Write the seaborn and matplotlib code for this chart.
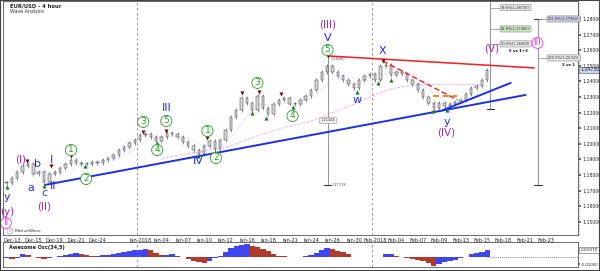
import numpy as np
import pandas as pd
import matplotlib
matplotlib.use("Agg")
import matplotlib.pyplot as plt
import seaborn as sns
from matplotlib.patches import Rectangle, Ellipse

sns.set_theme(style="white")
plt.rcParams['font.family'] = ['DejaVu Sans']

# ---------------- data ----------------
holidays = ['2017-12-25', '2018-01-01']
tick_labels = ['Dec-13', 'Dec-15', 'Dec-19', 'Dec-21', 'Dec-24', 'Jan-2018', 'Jan-04', 'Jan-07',
               'Jan-10', 'Jan-12', 'Jan-16', 'Jan-18', 'Jan-21', 'Jan-24', 'Jan-26', 'Jan-30',
               'Feb-2018', 'Feb-04', 'Feb-07', 'Feb-09', 'Feb-13', 'Feb-15', 'Feb-18', 'Feb-21', 'Feb-23']
tick_dates = ['2017-12-13', '2017-12-15', '2017-12-19', '2017-12-21', '2017-12-24', '2018-01-01',
              '2018-01-04', '2018-01-07', '2018-01-10', '2018-01-12', '2018-01-16', '2018-01-18',
              '2018-01-21', '2018-01-24', '2018-01-26', '2018-01-30', '2018-02-01', '2018-02-04',
              '2018-02-07', '2018-02-09', '2018-02-13', '2018-02-15', '2018-02-18', '2018-02-21',
              '2018-02-23']

# 12-hour closes, starting half a trading day before Dec-13
closes = [1.1749, 1.1781, 1.1819, 1.1858, 1.1871, 1.1806, 1.1819, 1.1755, 1.1806, 1.1819,
          1.1845, 1.1871, 1.1896, 1.1877, 1.1871, 1.1871, 1.1883, 1.1877, 1.1896, 1.1909,
          1.1928, 1.1960, 1.1980, 1.2005, 1.2024, 1.2056, 1.2063, 1.2044, 1.2018, 1.2044,
          1.2069, 1.2063, 1.2044, 1.2012, 1.1986, 1.1960, 1.1935, 1.1986, 1.2018, 1.1967,
          1.2024, 1.2088, 1.2172, 1.2217, 1.2294, 1.2262, 1.2217, 1.2306, 1.2230, 1.2191,
          1.2255, 1.2281, 1.2294, 1.2255, 1.2255, 1.2281, 1.2306, 1.2345, 1.2409, 1.2460,
          1.2499, 1.2460, 1.2435, 1.2409, 1.2383, 1.2358, 1.2409, 1.2435, 1.2447, 1.2409,
          1.2499, 1.2505, 1.2441, 1.2460, 1.2447, 1.2409, 1.2383, 1.2345, 1.2300, 1.2262,
          1.2230, 1.2262, 1.2242, 1.2255, 1.2268, 1.2281, 1.2319, 1.2358, 1.2371, 1.2409,
          1.2473]

awesome = [-0.0013, -0.0027, -0.0013, 0.0053, 0.0040, 0.0013, -0.0013, -0.0027, -0.0007, 0.0013,
           0.0027, 0.0040, 0.0053, 0.0067, 0.0053, 0.0040, 0.0027, 0.0027, 0.0040, 0.0040,
           0.0053, 0.0067, 0.0080, 0.0093, 0.0107, 0.0113, 0.0120, 0.0107, 0.0067, 0.0040,
           0.0040, 0.0053, 0.0027, 0.0000, -0.0027, -0.0053, -0.0073, -0.0080, -0.0053, -0.0013,
           0.0027, 0.0080, 0.0133, 0.0173, 0.0187, 0.0200, 0.0173, 0.0147, 0.0120, 0.0093,
           0.0053, 0.0027, 0.0020, 0.0013, 0.0007, 0.0013, 0.0020, 0.0033, 0.0067, 0.0107,
           0.0133, 0.0120, 0.0093, 0.0080, 0.0053, 0.0013, 0.0000, 0.0013, 0.0013, 0.0000,
           0.0013, 0.0053, 0.0053, 0.0027, 0.0013, -0.0013, -0.0027, -0.0040, -0.0047, -0.0080,
           -0.0120, -0.0100, -0.0073, -0.0053, -0.0033, -0.0013, 0.0013, 0.0053, 0.0067, 0.0080,
           0.0107]

# wave labels: text, trading-day position, price, style
wave_text = ['(III)', 'V', '5', 'X', 'w', 'y', '(IV)', '(V)', 'III',
             '3', '4', 'III', '5', '3', '4', 'IV', '1', '2', '1', '2',
             'I', 'II', 'c', 'a', 'b', '(I)', 'y', '(y)', 'II', '(II)']
wave_day = [29.55, 29.55, 29.55, 34.7, 32.27, 40.7, 40.7, 44.9, 49.2,
            22.98, 26.27, 14.45, 14.45, 12.29, 13.6, 17.45, 18.3, 19.1, 5.53, 6.94,
            3.66, 3.85, 3.0, 1.78, 2.35, 0.84, -0.47, -0.47, -0.56, 3.0]
wave_price = [1.2762, 1.2678, 1.2601, 1.2595, 1.2281, 1.2140, 1.2069, 1.2608, 1.2646,
              1.2390, 1.2178, 1.2229, 1.2146, 1.2140, 1.1960, 1.1890, 1.2082, 1.1909, 1.1960, 1.1774,
              1.1896, 1.1730, 1.1685, 1.1717, 1.1871, 1.1896, 1.1659, 1.1563, 1.1492, 1.1595]
wave_style = ['purple', 'blue', 'circle', 'blue', 'blue', 'blue', 'purple', 'purple', 'pink',
              'circle', 'circle', 'blue', 'circle', 'circle', 'circle', 'blue', 'circle', 'circle',
              'circle', 'circle', 'blue', 'blue', 'blue', 'blue', 'blue', 'purple', 'blue',
              'purple', 'pink', 'purple']

high_day = [1.41, 3.66, 5.53, 12.29, 14.45, 18.3, 21.5, 23.1, 25.2, 29.55, 34.7]
high_price = [1.1890, 1.1858, 1.1922, 1.2076, 1.2082, 1.2037, 1.2326, 1.2332, 1.2319, 1.2563, 1.2531]
low_day = [-0.47, 3.0, 6.85, 13.6, 17.45, 19.04, 22.5, 23.8, 26.27, 32.27, 34.24, 35.46, 39.4, 40.7]
low_price = [1.1723, 1.1730, 1.1858, 1.2005, 1.1922, 1.1947, 1.2197, 1.2165, 1.2236, 1.2332,
             1.2390, 1.2409, 1.2210, 1.2217]

# trend lines (day, price) endpoints
blue_long = ([3.1, 48.1], [1.1736, 1.2313])
blue_short = ([40.4, 46.7], [1.2217, 1.2390])
red_top = ([29.55, 48.9], [1.2563, 1.2486])
red_dash = ([34.7, 41.7], [1.2531, 1.2281])
orange_dash = ([39.4, 41.7], [1.2306, 1.2306])

fib_a_day, fib_a_top, fib_a_bottom = 29.55, 1.2563, 1.1736
fib_b_day, fib_b_bottom = 44.8, 1.2223
fib_b_levels = [1.2873, 1.2736, 1.2640]
fib_b_texts = ['78.6%(1.28730)', '61.8%(1.27360)', '50.0%(1.26400)']
fib_b_colors = ['#e6e6e6', '#c8e6c0', '#e6e6e6']
fib_c_day, fib_c_top, fib_c_bottom = 49.25, 1.2800, 1.1736
fib_c_levels = [1.2800, 1.2550]
fib_c_texts = ['261.8%(1.27992)', '200.0%(1.25321)']
fib_c_colors = ['#c9cbe8', '#e6e6e6']

# ---------------- derived positions ----------------
cal = pd.bdate_range('2017-12-13', '2018-03-02')
cal = cal[~cal.isin(pd.to_datetime(holidays))]
tick_pos = cal.searchsorted(pd.to_datetime(tick_dates))
day = np.arange(len(closes)) * 0.5 - 0.5
df = pd.DataFrame({'day': day, 'close': closes, 'ao': awesome})
df['open'] = df['close'].shift(1).fillna(df['close'])
df['ma_fast'] = df['close'].rolling(6).mean()
df['ma_slow'] = df['close'].rolling(30).mean()

W, H = 600, 271
fig = plt.figure(figsize=(6, 2.71), dpi=100)
fig.patch.set_facecolor('white')
xl, xr = 3 / W, 578 / W
ax = fig.add_axes([xl, 1 - 235 / H, xr - xl, 234 / H])
ax2 = fig.add_axes([xl, 1 - 267 / H, xr - xl, 25 / H], sharex=ax)

XMIN, XMAX = -0.84, 53.0
ax.set_xlim(XMIN, XMAX)
ax.set_ylim(1.1415, 1.2915)

BLUE = '#1f2fe0'
PURPLE = '#9b2f9f'
GREEN = '#2b9a2b'
PINK = '#f030f0'

# period separators
for d in ['2018-01-01', '2018-02-01']:
    p = cal.searchsorted(pd.Timestamp(d)) - 0.3
    ax.axvline(p, color='#888888', lw=0.6, ls=(0, (3, 3)))
    ax2.axvline(p, color='#888888', lw=0.6, ls=(0, (3, 3)))

# moving averages
sns.lineplot(data=df, x='day', y='ma_slow', ax=ax, color='#e6a8e6', lw=0.6, ls='--')
sns.lineplot(data=df, x='day', y='ma_fast', ax=ax, color='#a9c4f0', lw=0.6, ls=':')

# candles
lo = np.minimum(df['open'], df['close'])
hi = np.maximum(df['open'], df['close'])
ax.vlines(df['day'], lo - 0.0014, hi + 0.0014, color='#555555', lw=0.45, zorder=3)
ax.bar(df['day'], (hi - lo).clip(lower=0.0004), bottom=lo, width=0.22,
       color='#d9d9d9', edgecolor='#3a3a3a', linewidth=0.35, zorder=4)

# trend lines
ax.plot(*blue_long, color=BLUE, lw=1.4, zorder=5)
ax.plot(*blue_short, color=BLUE, lw=1.4, zorder=5)
ax.plot(*red_top, color='#ee2222', lw=1.1, zorder=5)
ax.plot(*red_dash, color='#ee2222', lw=1.0, ls=(0, (4, 2)), zorder=5)
ax.plot(*orange_dash, color='#f08030', lw=1.4, ls=(0, (3, 2)), zorder=5)

# pivot markers
ax.scatter(high_day, high_price, marker='v', s=9, color='#7a1010', zorder=6, linewidths=0)
ax.scatter(low_day, low_price, marker='^', s=9, color='#1f7a1f', zorder=6, linewidths=0)

# fib tools
gray = '#999999'
ax.vlines(fib_a_day, fib_a_bottom, fib_a_top, color=gray, lw=0.8, zorder=2)
ax.plot([fib_a_day - 0.35, fib_a_day + 0.35], [fib_a_bottom] * 2, color='#333', lw=0.8)
ax.text(fib_a_day + 0.3, fib_a_top - 0.0008, '1.25580', fontsize=2.5, va='top', color='#444')
ax.text(fib_a_day + 0.4, fib_a_bottom, '1.17178', fontsize=2.5, va='center', color='#444')
ax.text(fib_a_day, (fib_a_top + fib_a_bottom) / 2, '1.21404', fontsize=2.5, ha='center', va='center',
        color='#444', bbox=dict(boxstyle='square,pad=0.3', fc='#eeeeee', ec='#999', lw=0.4))

ax.vlines(fib_b_day, fib_b_bottom, 1.30, color=gray, lw=0.8, zorder=2)
ax.plot([fib_b_day - 0.35, fib_b_day + 0.35], [fib_b_bottom] * 2, color='#333', lw=0.8)
for lv, tx, c in zip(fib_b_levels, fib_b_texts, fib_b_colors):
    ax.plot([fib_b_day, fib_b_day + 1.0], [lv, lv], color=gray, lw=0.6)
    ax.text(fib_b_day + 1.0, lv, tx, fontsize=2.6, va='center', ha='left', color='#333',
            bbox=dict(boxstyle='round,pad=0.3', fc=c, ec='#888', lw=0.4))
ax.text(fib_b_day + 3.5, fib_b_levels[-1] - 0.0045, '5 vs 1+3', fontsize=2.8, ha='right',
        va='center', color='#111', fontweight='bold')

ax.vlines(fib_c_day, fib_c_bottom, fib_c_top, color=gray, lw=0.8, zorder=2)
ax.plot([fib_c_day - 0.35, fib_c_day + 0.35], [fib_c_bottom] * 2, color='#333', lw=0.8)
ax.plot([fib_c_day - 0.35, fib_c_day + 0.35], [fib_c_top] * 2, color='#333', lw=0.8)
for lv, tx, c in zip(fib_c_levels, fib_c_texts, fib_c_colors):
    ax.plot([fib_c_day, fib_c_day + 0.95], [lv, lv], color=gray, lw=0.6)
    ax.text(fib_c_day + 0.95, lv, tx, fontsize=2.6, va='center', ha='left', color='#333',
            bbox=dict(boxstyle='round,pad=0.3', fc=c, ec='#888', lw=0.4))
ax.text(fib_c_day + 3.5, fib_c_levels[-1] - 0.0045, '3 vs 1', fontsize=2.8, ha='right',
        va='center', color='#111', fontweight='bold')

# wave labels
for t, d, p, s in zip(wave_text, wave_day, wave_price, wave_style):
    if s == 'circle':
        ax.text(d, p, t, fontsize=6.5, color=GREEN, ha='center', va='center', zorder=8,
                bbox=dict(boxstyle='circle,pad=0.12', fc='white', ec=GREEN, lw=0.6))
    elif s == 'pink':
        ax.text(d, p, t, fontsize=6.5, color=PINK, ha='center', va='center', zorder=8,
                bbox=dict(boxstyle='circle,pad=0.1', fc='white', ec=PINK, lw=0.6))
    elif s == 'purple':
        ax.text(d, p, t, fontsize=7.5, color=PURPLE, ha='center', va='center', zorder=8)
    else:
        ax.text(d, p, t, fontsize=8, color=BLUE, ha='center', va='center', zorder=8)

# axes styling
ax.set_xlabel('')
ax.set_ylabel('')
ax.set_xticks(tick_pos)
ax.set_xticklabels(tick_labels)
ax.tick_params(axis='x', labelsize=3.6, length=1.5, pad=0.8, color='#555', labelcolor='#222')
ax.yaxis.tick_right()
yt = np.round(np.arange(1.15, 1.2801, 0.01), 2)
ax.set_yticks(yt)
ax.set_yticklabels([f'{v:.5f}' for v in yt])
ax.set_yticks(np.arange(1.142, 1.291, 0.002), minor=True)
ax.tick_params(axis='y', which='major', labelsize=3.3, length=2, pad=1, color='#555', labelcolor='#222')
ax.tick_params(axis='y', which='minor', length=1, color='#777')
for sp in ax.spines.values():
    sp.set_color('#555555')
    sp.set_linewidth(0.6)

# current price box
last = df['close'].iloc[-1]
ax.annotate(f'{last:.5f}', xy=(1.004, last), xycoords=('axes fraction', 'data'), fontsize=3.3,
            va='center', ha='left', color='#222', annotation_clip=False, zorder=10,
            bbox=dict(boxstyle='square,pad=0.2', fc='#c9d4f0', ec='#555', lw=0.4))

# oscillator
df['ao_up'] = np.where(df['ao'].diff().fillna(0) >= 0, 'up', 'down')
ax2.bar(df['day'], df['ao'], width=0.5, color=np.where(df['ao_up'] == 'up', '#3f46f0', '#b03a2e'),
        linewidth=0)
ax2.hlines(0, df['day'].iloc[-1], XMAX, color='#555', lw=0.6, ls=(0, (1, 1.5)))
ax2.set_ylim(-0.0140, 0.0227)
ax2.set_xlim(XMIN, XMAX)
ax2.yaxis.tick_right()
ax2.set_yticks([-0.01])
ax2.set_yticklabels(['-0.01000'])
ax2.tick_params(axis='y', labelsize=2.9, length=1.5, pad=0.6, color='#555', labelcolor='#222')
ax2.tick_params(axis='x', bottom=False, labelbottom=False)
ax2.annotate(f'{df["ao"].iloc[-1]:.5f}', xy=(1.004, df['ao'].iloc[-1]), xycoords=('axes fraction', 'data'),
             fontsize=3.1, va='center', ha='left', color='#222', annotation_clip=False,
             bbox=dict(boxstyle='square,pad=0.2', fc='white', ec='#555', lw=0.4))
ax2.text(0.01, 0.86, 'Awesome Osc(34,5)', transform=ax2.transAxes, fontsize=3.6, fontweight='bold',
         va='top', color='#222')
ax2.set_ylabel('')
for sp in ax2.spines.values():
    sp.set_color('#555555')
    sp.set_linewidth(0.6)

# titles
fig.text(10 / W, 1 - 6 / H, 'EUR/USD - 4 hour', fontsize=3.8, fontweight='bold', va='center', color='#222')
fig.text(10 / W, 1 - 12 / H, 'Wave Analysis', fontsize=3.4, va='center', color='#333')
fig.add_artist(Ellipse((10 / W, 1 - 231 / H), 6 / W, 6 / H, transform=fig.transFigure,
                       fc='white', ec='#aaaaaa', lw=0.5))
fig.text(10 / W, 1 - 231 / H, 'M', fontsize=2.3, va='center', ha='center', color='#999')
fig.text(15 / W, 1 - 231 / H, 'MotiveWave', fontsize=3.2, va='center', color='#333')

fig.add_artist(Rectangle((0, 0), 1, 1, transform=fig.transFigure, fill=False, ec='#444', lw=1.5))

fig.savefig('out.png', dpi=100)
